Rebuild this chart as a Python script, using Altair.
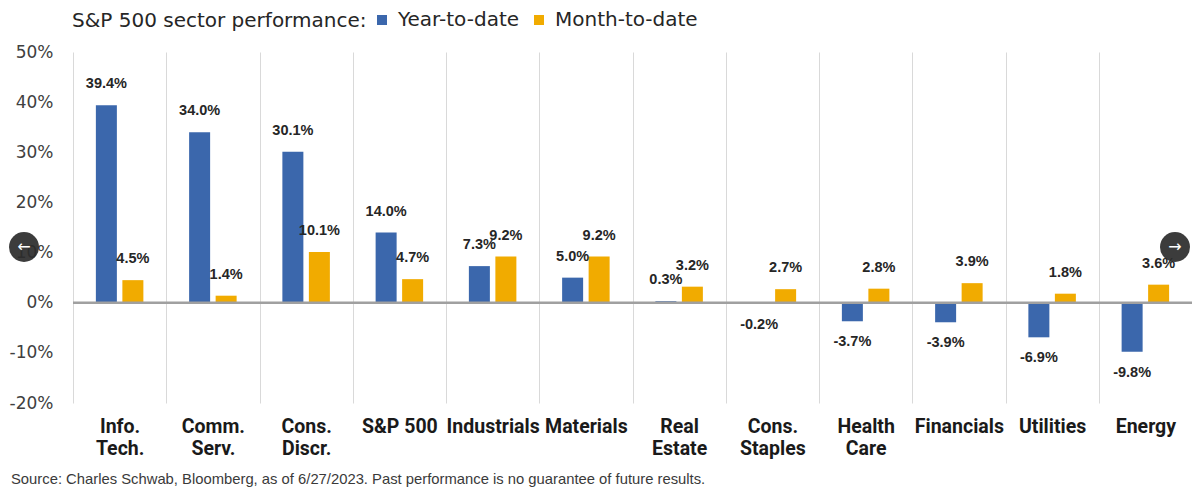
import altair as alt
import pandas as pd

categories = ["Info.\nTech.", "Comm.\nServ.", "Cons.\nDiscr.", "S&P 500", "Industrials",
              "Materials", "Real\nEstate", "Cons.\nStaples", "Health\nCare", "Financials",
              "Utilities", "Energy"]
ytd = [39.4, 34.0, 30.1, 14.0, 7.3, 5.0, 0.3, -0.2, -3.7, -3.9, -6.9, -9.8]
mtd = [4.5, 1.4, 10.1, 4.7, 9.2, 9.2, 3.2, 2.7, 2.8, 3.9, 1.8, 3.6]
series = ["Year-to-date", "Month-to-date"]
colors = ["#3b67ac", "#f1ab00"]
y_ticks = [-20, -10, 0, 10, 20, 30, 40, 50]
title_text = "S&P 500 sector performance:"
source_text = ("Source: Charles Schwab, Bloomberg, as of 6/27/2023.  "
               "Past performance is no guarantee of future results.")

rows = []
for c, a, b in zip(categories, ytd, mtd):
    rows.append({"category": c, "series": series[0], "value": a})
    rows.append({"category": c, "series": series[1], "value": b})
df = pd.DataFrame(rows)

x_enc = alt.X(
    "category:N", sort=categories,
    scale=alt.Scale(paddingInner=0, paddingOuter=0),
    axis=alt.Axis(title=None,
                  labelExpr="isValid(datum.value) ? split(datum.value, '\\n') : ''",
                  labelFont="Roboto", labelFontWeight="bold", labelFontSize=19.5,
                  labelLineHeight=22, labelColor="#1a1a1a", labelPadding=14, labelAngle=0,
                  domain=False, ticks=False, tickSize=0, grid=True, tickBand="extent",
                  gridColor="#d9d9d9", gridWidth=1),
)
xo_enc = alt.XOffset("series:N", sort=series,
                     scale=alt.Scale(paddingInner=0.2075, paddingOuter=0.863))
y_enc = alt.Y(
    "value:Q",
    scale=alt.Scale(domain=[-20, 50], nice=False),
    axis=alt.Axis(title=None, values=y_ticks, labelExpr="datum.value + '%'",
                  labelFont="DejaVu Sans", labelFontSize=17, labelColor="#404040",
                  labelPadding=20, domain=False, ticks=False, tickSize=0, grid=False),
)

bars = alt.Chart(df).mark_bar().encode(
    x=x_enc, xOffset=xo_enc, y=y_enc,
    color=alt.Color("series:N", sort=series,
                    scale=alt.Scale(domain=series, range=colors),
                    legend=alt.Legend(title=None, orient="none", legendX=299, legendY=-42,
                                      direction="horizontal", symbolType="square",
                                      symbolSize=100, symbolStrokeWidth=0, symbolOpacity=1,
                                      labelFont="DejaVu Sans", labelFontSize=20,
                                      labelColor="#262626", labelOffset=6,
                                      columnPadding=9, padding=0)),
)

zero = alt.Chart(pd.DataFrame({"z": [0]})).mark_rule(
    color="#a0a0a0", strokeWidth=2.5).encode(y=alt.datum(0))

lab = alt.Chart(df).transform_calculate(
    label="(datum.value < 0 ? '-' : '') + format(abs(datum.value), '.1f') + '%'")
lab_style = dict(font="Liberation Sans", fontWeight="bold", fontSize=14.5,
                 color="#262626", baseline="middle")
pos = lab.transform_filter("datum.value >= 0").mark_text(dy=-21, **lab_style).encode(
    x=x_enc, xOffset=xo_enc, y=y_enc, text="label:N")
neg = lab.transform_filter("datum.value < 0").mark_text(dy=21, **lab_style).encode(
    x=x_enc, xOffset=xo_enc, y=y_enc, text="label:N")

title = alt.Chart(pd.DataFrame({"t": [title_text]})).mark_text(
    align="left", baseline="middle", font="DejaVu Sans", fontSize=20, color="#262626"
).encode(text="t:N", x=alt.value(-1), y=alt.value(-31))

source = alt.Chart(pd.DataFrame({"t": [source_text]})).mark_text(
    align="left", baseline="middle", font="Liberation Sans", fontSize=14.8, color="#3a3a3a"
).encode(text="t:N", x=alt.value(-62), y=alt.value(428))

nav_l = alt.Chart(pd.DataFrame({"a": ["\u2190"]}))
nav_r = alt.Chart(pd.DataFrame({"a": ["\u2192"]}))
circ_style = dict(size=900, color="#2b2b2b", opacity=0.92)
txt_style = dict(font="DejaVu Sans", fontSize=16, color="white", baseline="middle",
                 align="center")
cl = nav_l.mark_circle(**circ_style).encode(x=alt.value(-49), y=alt.value(195))
cr = nav_r.mark_circle(**circ_style).encode(x=alt.value(1102), y=alt.value(195))
tl = nav_l.mark_text(**txt_style).encode(text="a:N", x=alt.value(-49), y=alt.value(195))
tr = nav_r.mark_text(**txt_style).encode(text="a:N", x=alt.value(1102), y=alt.value(195))

chart = alt.layer(bars, zero, pos, neg, title, source, cl, cr, tl, tr).properties(
    width=1119, height=351,
    autosize=alt.AutoSizeParams(type="none"),
    padding={"left": 65, "top": 44, "right": 0, "bottom": 85},
    background="white",
).configure_view(stroke=None)

chart.save("out.html", embed_options={"renderer": "svg", "actions": False})
